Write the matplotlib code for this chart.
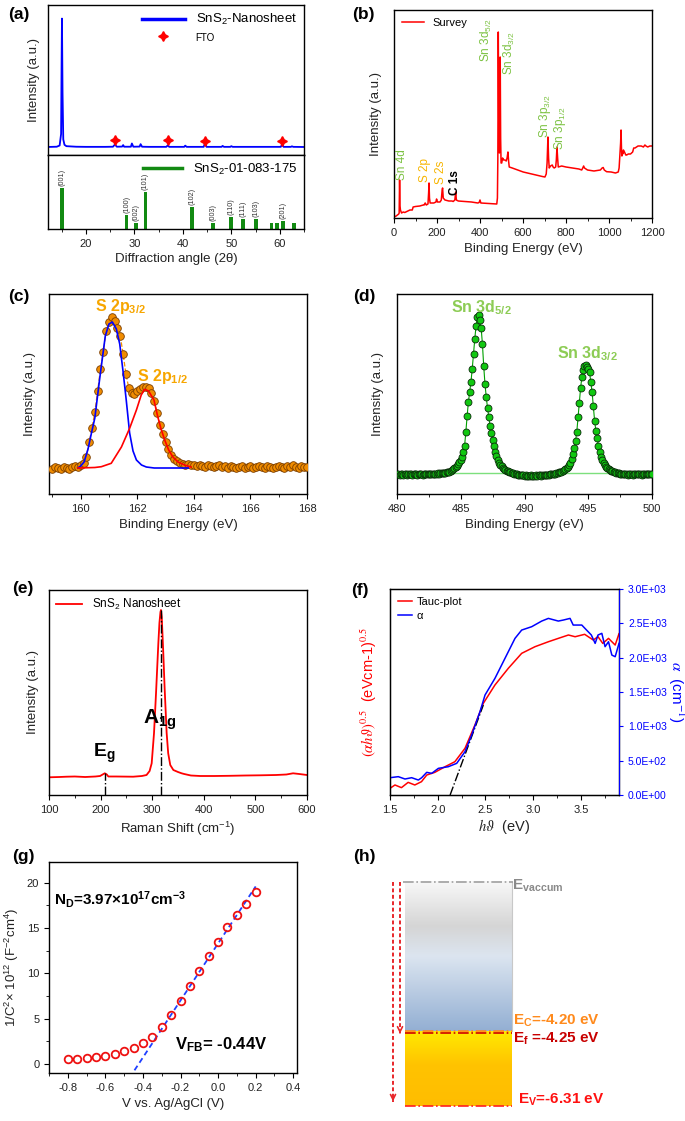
import numpy as np
import matplotlib
matplotlib.use("Agg")
import matplotlib.pyplot as plt
from matplotlib.colors import LinearSegmentedColormap
from matplotlib.lines import Line2D
from matplotlib.ticker import MultipleLocator, FuncFormatter

plt.rcParams["font.family"] = ["Liberation Sans", "DejaVu Sans"]
plt.rcParams["mathtext.fontset"] = "custom"
plt.rcParams["mathtext.rm"] = "Liberation Sans"
plt.rcParams["mathtext.sf"] = "Liberation Sans"
plt.rcParams["mathtext.it"] = "Liberation Sans:italic"
plt.rcParams["mathtext.bf"] = "Liberation Sans:bold"

# ---- (a) XRD ----
xrd_x = [12.0, 14.0, 14.6, 14.9, 15.0, 15.08, 15.2, 15.35, 15.6, 16.0, 18.0, 20.0, 24.0, 25.6, 26.0, 26.4,
         27.5, 27.7, 27.9, 29.3, 29.5, 29.8, 31.1, 31.3, 31.6, 33.0, 36.6, 36.9, 37.2, 40.3, 40.5, 40.8,
         44.3, 44.6, 44.9, 48.0, 48.2, 48.5, 49.8, 50.0, 50.3, 55.0, 60.2, 60.5, 60.8, 62.3, 62.5, 62.8, 65.0]
xrd_y = [0.4, 0.6, 1.5, 10, 60, 95, 40, 6, 2, 1.0, 0.6, 0.5, 0.5, 0.6, 2.2, 0.6,
         0.7, 1.8, 0.6, 0.6, 3.0, 0.6, 0.7, 2.5, 0.6, 0.5, 0.5, 1.6, 0.5, 0.5, 1.4, 0.5,
         0.5, 3.2, 0.5, 0.5, 1.2, 0.5, 0.5, 1.0, 0.5, 0.5, 0.5, 2.2, 0.5, 0.5, 0.9, 0.5, 0.4]
fto_x = [26.0, 37.0, 44.5, 60.5]
fto_y = [5.5, 5.5, 4.5, 4.5]
ref_pos = [15.1, 28.4, 30.4, 32.3, 41.9, 46.2, 50.0, 52.5, 55.05, 58.3, 59.5, 60.7, 63.0]
ref_h = [100, 34, 15, 90, 54, 15, 29, 24, 24, 15, 15, 19, 15]
ref_hkl = ["(001)", "(100)", "(002)", "(101)", "(102)", "(003)", "(110)", "(111)", "(103)", "", "", "(201)", ""]

# ---- (b) XPS survey ----
sv_x = [0, 10, 22, 24, 25, 26, 28, 30, 35, 43, 50, 74, 85, 89, 100, 120, 136, 140, 145, 150, 158, 161, 163, 165,
        168, 175, 185, 195, 198, 202, 214, 220, 224, 226, 229, 237, 255, 270, 275, 283, 287, 290, 299, 330, 360,
        390, 396, 400, 404, 440, 470, 478, 481, 483, 485, 487, 488, 490, 492, 494, 496, 498, 501, 505, 510, 516,
        522, 526, 530, 533, 536, 550, 575, 601, 650, 690, 702, 708, 712, 716, 719, 722, 728, 736, 740, 745, 752,
        755, 758, 761, 764, 780, 800, 830, 860, 873, 878, 882, 886, 900, 930, 960, 968, 973, 978, 989, 1010, 1030,
        1043, 1047, 1051, 1054, 1056, 1058, 1060, 1062, 1064, 1067, 1072, 1078, 1082, 1090, 1100, 1110, 1115,
        1121, 1135, 1150, 1160, 1167, 1172, 1180, 1190, 1200]
sv_y = [1, 2, 4, 5, 20, 38, 12, 8, 5, 6, 5.5, 8, 8, 11, 11.5, 12, 13, 13, 15, 13, 14, 25, 35, 20,
        15, 15, 15, 16, 19, 16, 16, 18, 28, 30, 20, 18, 17, 17, 16.5, 18, 26, 18, 17, 16.5, 16,
        15, 15.5, 18, 15, 14.5, 14, 14, 20, 60, 186, 120, 70, 65, 100, 161, 80, 55, 55, 60, 58, 58,
        57, 60, 66, 57, 51, 50, 48, 46, 43.5, 41.5, 41, 44, 55, 81, 60, 50, 52, 53, 51, 50, 51,
        58, 71, 60, 51, 52, 51, 50, 49, 48, 50, 52, 50, 48, 47, 48, 50, 50.5, 48, 46.3, 46, 45,
        46, 50, 65, 75, 88, 70, 62, 66, 64, 68, 66, 63, 63, 64, 64, 66, 70,
        70, 72, 72, 71, 73, 72, 71, 72, 72]

# ---- (c) S 2p ----
s2p_x = np.round(np.arange(159.0, 168.05, 0.1), 1)
s2p_y = [25, 27, 26, 25, 27, 26, 25, 27, 28, 27,
         29, 31, 37, 52, 66, 82, 103, 125, 142, 163,
         172, 177, 173, 166, 158, 140, 120, 106, 101, 100,
         103, 105, 107, 107, 106, 101, 93, 81, 69, 60,
         52, 45, 39, 35, 33, 31, 30, 29, 30, 29,
         29, 28, 29, 28, 27, 29, 28, 27, 28, 29,
         27, 28, 26, 28, 27, 26, 27, 28, 26, 27,
         28, 26, 27, 28, 27, 26, 28, 27, 26, 27,
         28, 27, 26, 28, 27, 29, 27, 26, 28, 27,
         27]
p32_x = [159.9, 160.0, 160.12, 160.26, 160.35, 160.5, 160.67, 160.87, 161.0, 161.12, 161.26, 161.38,
         161.5, 161.61, 161.73, 161.85, 161.97, 162.15, 162.32, 162.6, 163.0, 163.8]
p32_y = [26, 28, 32, 45, 57, 76, 115, 158, 170, 172, 165, 150, 122, 94, 61, 43, 34, 29, 27, 26, 26, 26]
p12_x = [159.9, 160.5, 160.73, 161.08, 161.44, 161.73, 161.97, 162.14, 162.26, 162.4, 162.59, 162.71,
         162.83, 162.97, 163.11, 163.26, 163.44, 163.67, 163.9]
p12_y = [26, 26.5, 27.3, 30.7, 47, 65.7, 84, 99, 104.7, 103, 94, 79, 66, 54, 44, 37, 32, 29, 27]

# ---- (d) Sn 3d ----
sn_x = np.round(np.arange(480.0, 500.05, 0.1), 1)
sn_y = [19.5, 20.0, 19.0, 19.8, 20.2, 19.4, 19.9, 20.1, 19.3, 19.7,
        20.0, 19.5, 19.2, 19.9, 20.3, 19.6, 19.4, 20.0, 19.8, 19.5,
        19.3, 19.9, 20.2, 19.7, 19.5, 20.0, 19.8, 19.6, 20.1, 20.3,
        19.9, 20.2, 20.5, 20.1, 20.6, 20.8, 20.5, 21.0, 21.2, 21.6,
        21.8, 22.3, 22.9, 23.6, 24.8, 26.0, 27.2, 28.4, 30.0, 31.5,
        33.5, 37.0, 42.0, 48.0, 62.0, 78.0, 92.0, 102.0, 112.0, 125.0,
        140.0, 155.0, 168.0, 177.0, 179.0, 174.0, 166.0, 150.0, 128.0, 110.0,
        97.0, 86.0, 77.0, 68.0, 61.0, 54.0, 48.0, 42.0, 37.5, 34.0,
        31.0, 29.0, 27.5, 26.0, 25.0, 24.0, 23.2, 22.6, 22.0, 21.5,
        21.0, 20.8, 20.4, 20.0, 19.6, 19.3, 19.1, 18.8, 18.6, 18.5,
        18.3, 18.6, 18.2, 18.4, 18.1, 18.5, 18.3, 18.0, 18.4, 18.6,
        18.3, 18.5, 18.8, 18.4, 18.9, 19.0, 18.7, 19.2, 19.0, 19.4,
        19.6, 19.5, 19.9, 20.2, 20.4, 20.8, 21.0, 21.5, 21.9, 22.4,
        23.0, 23.8, 24.8, 26.0, 27.3, 29.0, 31.0, 35.0, 40.0, 46.0,
        53.0, 62.0, 77.0, 91.0, 106.0, 117.0, 124.0, 128.0, 129.0, 127.0,
        125.0, 122.0, 112.0, 102.0, 88.0, 73.0, 63.0, 56.0, 48.0, 41.5,
        37.0, 34.0, 31.0, 29.0, 27.0, 26.0, 25.0, 24.0, 23.2, 22.6,
        22.0, 21.6, 21.2, 20.9, 20.6, 20.3, 20.1, 19.9, 20.2, 19.6,
        19.8, 19.4, 20.1, 19.6, 19.9, 19.3, 19.8, 20.2, 19.5, 19.9,
        19.6, 20.0, 19.4, 19.8, 20.3, 19.7, 19.5, 20.1, 19.8, 19.6,
        19.9]
sn_bg_x = [484.5, 497.5]
sn_bg_y = [20.5, 20.5]

# ---- (e) Raman ----
ram_x = [100, 120, 134, 150, 170, 190, 199, 204, 208, 212, 215, 230, 263, 280, 289, 295, 299, 303.5, 307.4,
         311.9, 314, 316, 317, 318.5, 321.5, 324, 326, 328, 331, 335, 341, 350, 357, 362, 375, 393, 420, 450,
         480, 510, 540, 560, 573, 585, 600]
ram_y = [17.7, 18, 18.3, 18.5, 18, 18.5, 19, 20.5, 21.7, 20.5, 18.5, 18.5, 18.3, 19, 20, 24, 31.7, 61.7, 101.7,
         151.7, 172, 183, 185, 178, 141.7, 108, 85, 62, 41.7, 30, 25, 23, 21.7, 21, 19.5, 19, 19, 19.2,
         19.5, 19.7, 20, 20.5, 21.7, 21, 20]
ram_modes = [208, 318]
ram_mode_h = [21.7, 185]

# ---- (f) Tauc / absorption ----
tauc_x = [1.5, 1.552, 1.62, 1.69, 1.76, 1.83, 1.885, 1.97, 2.077, 2.18, 2.286, 2.39, 2.478, 2.60, 2.74,
          2.88, 3.02, 3.16, 3.264, 3.37, 3.44, 3.54, 3.63, 3.68, 3.73, 3.79, 3.86, 3.9]
tauc_y = [97, 146, 107, 184, 146, 194, 291, 330, 412, 485, 680, 1019, 1335, 1602, 1845,
          2063, 2160, 2232, 2281, 2330, 2305, 2340, 2257, 2305, 2208, 2281, 2184, 2349]
alpha_x = [1.5, 1.587, 1.657, 1.727, 1.797, 1.832, 1.885, 1.937, 2.007, 2.111, 2.199, 2.286, 2.356, 2.443,
           2.496, 2.60, 2.705, 2.81, 2.88, 2.985, 3.09, 3.16, 3.264, 3.317, 3.387, 3.42, 3.51, 3.56, 3.61,
           3.65, 3.68, 3.72, 3.754, 3.79, 3.825, 3.86, 3.9]
alpha_y = [252, 267, 233, 252, 218, 252, 330, 315, 388, 412, 461, 631, 874, 1213,
           1456, 1699, 1990, 2281, 2402, 2451, 2533, 2572, 2533, 2548, 2572, 2475, 2475, 2402, 2330,
           2208, 2330, 2354, 2160, 2232, 2038, 2014, 2208]
tang_x = [2.13, 2.478]
tang_y = [0, 1310]

# ---- (g) Mott-Schottky ----
ms_v = [-0.80, -0.75, -0.70, -0.65, -0.60, -0.55, -0.50, -0.45, -0.40, -0.35, -0.30,
        -0.25, -0.20, -0.15, -0.10, -0.05, 0.00, 0.05, 0.10, 0.15, 0.20]
ms_c = [0.51, 0.55, 0.62, 0.73, 0.92, 1.14, 1.40, 1.73, 2.36, 3.02, 4.05,
        5.44, 6.95, 8.6, 10.3, 11.9, 13.5, 15.1, 16.5, 17.7, 19.0]
ms_fit_x = [-0.445, 0.2]
ms_fit_y = [-0.7, 19.6]

# ---- (h) band levels (eV) ----
E_vac, E_c, E_f, E_v = 0.0, -4.20, -4.25, -6.31

W, H = 685.0, 1121.0
def box(l, t, r, b):
    return [l / W, 1 - b / H, (r - l) / W, (b - t) / H]

TXT = "#222222"
def style(ax, yt=False):
    ax.tick_params(labelsize=8, labelcolor=TXT, width=0.8, length=3.5)
    ax.tick_params(which="minor", width=0.6, length=2)
    if not yt:
        ax.set_yticks([])
    for s in ax.spines.values():
        s.set_linewidth(1.0)

fig = plt.figure(figsize=(6.85, 11.21), dpi=100)

# ===== (a) =====
a1 = fig.add_axes(box(48, 5, 304, 155))
a2 = fig.add_axes(box(48, 155, 304, 229), sharex=a1)
a1.plot(xrd_x, xrd_y, color="#0000ff", lw=1.3)
a1.plot(fto_x, fto_y, ls="none", marker=(4, 1, 0), ms=7, color="red")
a1.set_ylim(-5.5, 105)
a1.set_xlim(12.2, 65)
style(a1); style(a2)
plt.setp(a1.get_xticklabels(), visible=False)
a1.xaxis.set_minor_locator(MultipleLocator(5))
h1 = [Line2D([], [], color="#0000ff", lw=2.5), Line2D([], [], ls="none", marker=(4, 1, 0), ms=7, color="red")]
lg = a1.legend(h1, ["SnS$_2$-Nanosheet", "FTO"], loc="upper right", frameon=False, fontsize=9.5,
               handlelength=3.3, borderaxespad=0.15, labelspacing=0.3)
lg.get_texts()[1].set_fontsize(7)
a1.set_ylabel("Intensity (a.u.)", fontsize=9.5, color=TXT, labelpad=6)
a2.bar(ref_pos, ref_h, width=0.8, color="#128a12")
for p, hh, t in zip(ref_pos, ref_h, ref_hkl):
    if t:
        a2.text(p, hh + 5, t, rotation=90, ha="center", va="bottom", fontsize=5.2, color="#333333")
a2.set_ylim(0, 180)
a2.xaxis.set_major_locator(MultipleLocator(10))
a2.xaxis.set_minor_locator(MultipleLocator(5))
a2.legend([Line2D([], [], color="#128a12", lw=2.5)], ["SnS$_2$-01-083-175"], loc="upper right", frameon=False,
          fontsize=9.5, handlelength=3.0, borderaxespad=0.1)
a2.set_xlabel("Diffraction angle (2\u03b8)", fontsize=9.5, color=TXT, labelpad=3)

# ===== (b) =====
b = fig.add_axes(box(394, 10, 652, 218))
b.plot(sv_x, sv_y, color="#ff0000", lw=1.1)
b.set_xlim(0, 1200); b.set_ylim(0, 208)
style(b)
b.xaxis.set_major_locator(MultipleLocator(200)); b.xaxis.set_minor_locator(MultipleLocator(100))
b.legend(["Survey"], loc="upper left", frameon=False, fontsize=8, handlelength=2.0, borderaxespad=0.3)
b.set_ylabel("Intensity (a.u.)", fontsize=9.5, color=TXT, labelpad=9)
b.set_xlabel("Binding Energy (eV)", fontsize=9.5, color=TXT)
GRN, ORG = "#7cc242", "#f7b500"
for x, y, t, c in [(36, 53, "Sn 4d", GRN), (144, 48, "S 2p", ORG), (217, 46, "S 2s", ORG),
                   (431, 178, "Sn 3d$_{5/2}$", GRN), (536, 165, "Sn 3d$_{3/2}$", GRN),
                   (702, 102, "Sn 3p$_{3/2}$", GRN), (770, 90, "Sn 3p$_{1/2}$", GRN)]:
    b.text(x, y, t, rotation=90, ha="center", va="center", fontsize=8.5, color=c)
b.text(284, 35, "C 1s", rotation=90, ha="center", va="center", fontsize=8.5, color="black", fontweight="bold")

# ===== (c) =====
c = fig.add_axes(box(49, 294, 307, 494))
c.plot(s2p_x, s2p_y, color="#f39200", lw=0.9, ls="--", zorder=2)
c.plot(s2p_x, s2p_y, ls="none", marker="o", ms=5.5, mfc="#f08c00", mec="#7a3d00", mew=0.6, zorder=3)
c.plot(p32_x, p32_y, color="#0000ff", lw=1.2, zorder=4)
c.plot(p12_x, p12_y, color="#ff0000", lw=1.2, zorder=4)
c.set_xlim(158.88, 168); c.set_ylim(0, 200)
style(c)
c.xaxis.set_major_locator(MultipleLocator(2)); c.xaxis.set_minor_locator(MultipleLocator(1))
c.text(161.41, 187, r"S 2p$_\mathbf{3/2}$", ha="center", va="center", fontsize=11.5, fontweight="bold", color="#f7a600")
c.text(162.91, 117, r"S 2p$_\mathbf{1/2}$", ha="center", va="center", fontsize=11.5, fontweight="bold", color="#f7a600")
c.set_ylabel("Intensity (a.u.)", fontsize=9.5, color=TXT, labelpad=9)
c.set_xlabel("Binding Energy (eV)", fontsize=9.5, color=TXT)

# ===== (d) =====
d = fig.add_axes(box(397, 294, 652, 494))
d.plot(sn_bg_x, sn_bg_y, color="#7de07d", lw=1.0, zorder=1)
d.plot(sn_x, sn_y, color="#00a000", lw=0.8, zorder=2)
d.plot(sn_x, sn_y, ls="none", marker="o", ms=5, mfc="#11c811", mec="#0a2a0a", mew=0.6, zorder=3)
d.set_xlim(480, 500); d.set_ylim(0, 200)
style(d)
d.xaxis.set_major_locator(MultipleLocator(5)); d.xaxis.set_minor_locator(MultipleLocator(2.5))
d.text(486.6, 186, r"Sn 3d$_\mathbf{5/2}$", ha="center", va="center", fontsize=11.5, fontweight="bold", color="#8dcc55")
d.text(494.9, 140, r"Sn 3d$_\mathbf{3/2}$", ha="center", va="center", fontsize=11.5, fontweight="bold", color="#8dcc55")
d.set_ylabel("Intensity (a.u.)", fontsize=9.5, color=TXT, labelpad=9.5)
d.set_xlabel("Binding Energy (eV)", fontsize=9.5, color=TXT)

# ===== (e) =====
e = fig.add_axes(box(49, 590, 307, 795))
e.plot(ram_x, ram_y, color="#ff0000", lw=1.3, label="SnS$_2$ Nanosheet")
for xm, hm in zip(ram_modes, ram_mode_h):
    e.plot([xm, xm], [0, hm], color="black", lw=1.0, ls="-.")
e.set_xlim(100, 600); e.set_ylim(0, 205)
style(e)
e.xaxis.set_major_locator(MultipleLocator(100)); e.xaxis.set_minor_locator(MultipleLocator(50))
e.legend(loc="upper left", frameon=False, fontsize=8.5, handlelength=2.2, borderaxespad=0.2)
e.text(185, 42, r"E$_\mathbf{g}$", ha="left", va="center", fontsize=14, fontweight="bold")
e.text(282, 75, r"A$_\mathbf{1g}$", ha="left", va="center", fontsize=15, fontweight="bold")
e.set_ylabel("Intensity (a.u.)", fontsize=9.5, color=TXT, labelpad=7)
e.set_xlabel("Raman Shift (cm$^{-1}$)", fontsize=9.5, color=TXT)

# ===== (f) =====
f = fig.add_axes(box(390, 589, 619, 795))
f2 = f.twinx()
lr, = f.plot(tauc_x, tauc_y, color="#ff0000", lw=1.1)
lb, = f2.plot(alpha_x, alpha_y, color="#0000ff", lw=1.1)
f.plot(tang_x, tang_y, color="black", lw=1.0, ls="-.")
f.set_xlim(1.5, 3.9); f.set_ylim(0, 3000); f2.set_ylim(0, 3000)
style(f)
f.xaxis.set_major_locator(MultipleLocator(0.5)); f.xaxis.set_minor_locator(MultipleLocator(0.25))
f2.yaxis.set_major_locator(MultipleLocator(500))
f2.yaxis.set_major_formatter(FuncFormatter(lambda v, p: f"{v:.1E}"))
f2.tick_params(labelsize=7.5, colors="#0000ff", width=0.8, length=3)
f2.spines["right"].set_color("#0000ff")
f2.legend([lr, lb], ["Tauc-plot", "\u03b1"], loc="upper left", frameon=False, fontsize=8,
          handlelength=1.3, handletextpad=0.4, borderaxespad=0.3, labelspacing=0.4)
f.set_ylabel(r"$(\alpha h\vartheta)^{0.5}$  (eVcm-1)$^{0.5}$", fontsize=10.5, color="#ff0000",
             labelpad=8, math_fontfamily="stix")
f2.set_ylabel(r"$\alpha$  (cm$^{-1}$)", fontsize=11, color="#0000ff", rotation=270, labelpad=14,
              math_fontfamily="stix")
f.set_xlabel(r"$h\vartheta$  (eV)", fontsize=10.5, color=TXT, math_fontfamily="stix", labelpad=2)

# ===== (g) =====
g = fig.add_axes(box(49, 862, 297, 1073))
g.plot(ms_fit_x, ms_fit_y, color="#1f3fff", lw=1.3, ls=(0, (3, 2)), zorder=2)
g.plot(ms_v, ms_c, ls="none", marker="o", ms=5.5, mfc="none", mec="#ee1111", mew=1.3, zorder=3)
g.set_xlim(-0.9, 0.42); g.set_ylim(-1.0, 22.3)
style(g, yt=True)
g.xaxis.set_major_locator(MultipleLocator(0.2)); g.xaxis.set_minor_locator(MultipleLocator(0.1))
g.yaxis.set_major_locator(MultipleLocator(5)); g.yaxis.set_minor_locator(MultipleLocator(2.5))
g.xaxis.set_major_formatter(FuncFormatter(lambda v, p: f"{v:.1f}"))
g.text(-0.875, 18.2, r"$\mathbf{N_D}$=3.97×10$^\mathbf{17}$cm$^\mathbf{-3}$", fontsize=11, fontweight="bold",
       va="center")
g.text(-0.227, 2.1, r"$\mathbf{V_{FB}}$= -0.44V", fontsize=12, fontweight="bold", va="center")
g.set_ylabel(r"1/C$^2$× 10$^{12}$ (F$^{-2}$cm$^4$)", fontsize=9.5, color=TXT, labelpad=4)
g.set_xlabel("V vs. Ag/AgCl (V)", fontsize=9.5, color=TXT)

# ===== (h) =====
hx = fig.add_axes(box(345, 850, 685, 1121))
grad = np.linspace(0, 1, 256).reshape(-1, 1)
cm_top = LinearSegmentedColormap.from_list("t", [(0, "#f8f8f8"), (0.3, "#d5d5d5"), (0.5, "#dce5f0"), (1, "#93afd3")])
cm_bot = LinearSegmentedColormap.from_list("b", [(0, "#ffea00"), (0.45, "#ffc300"), (1, "#ffbd00")])
hx.imshow(grad, cmap=cm_top, extent=[60, 167, E_c, E_vac], aspect="auto", origin="upper", zorder=1)
hx.imshow(grad, cmap=cm_bot, extent=[60, 167, E_v, E_c], aspect="auto", origin="upper", zorder=1)
hx.plot([167, 167], [E_c, E_vac], color="#c8c8c8", lw=0.8, zorder=2)
hx.plot([58, 168], [E_vac, E_vac], color="#a0a0a0", lw=1.2, ls="-.", zorder=3)
hx.plot([60, 167], [E_c, E_c], color="#ff8a1c", lw=1.2, ls="-.", zorder=3)
hx.plot([60, 167], [E_f, E_f], color="#d00000", lw=1.2, ls="-.", zorder=3)
hx.plot([60, 167], [E_v, E_v], color="#ff2020", lw=1.2, ls="-.", zorder=3)
for xa, yend in [(48, E_v + 0.05), (55, E_f - 0.1)]:
    hx.plot([xa, xa], [E_vac, yend + 0.05], color="#e8262a", lw=1.4, ls=(0, (2, 1.3)), zorder=3)
    hx.annotate("", xy=(xa, yend), xytext=(xa, yend + 0.25),
                arrowprops=dict(arrowstyle="->", color="#e8262a", lw=1.2, mutation_scale=9))
hx.text(167, E_vac - 0.1, r"E$_\mathbf{vaccum}$", color="#8a8a8a", fontsize=11, fontweight="bold", va="center")
hx.text(168, E_c + 0.28, r"E$_\mathbf{C}$=-4.20 eV", color="#ff8a1c", fontsize=11, fontweight="bold", va="center")
hx.text(168, E_f - 0.17, r"E$_\mathbf{f}$ =-4.25 eV", color="#c80000", fontsize=11, fontweight="bold", va="center")
hx.text(173, E_v + 0.17, r"E$_\mathbf{V}$=-6.31 eV", color="#ff1010", fontsize=11, fontweight="bold", va="center")
hx.set_xlim(0, 340); hx.set_ylim(-6.736, 0.902)
hx.axis("off")

# panel letters
for t, x, y in [("(a)", 8, 15), ("(b)", 352, 15), ("(c)", 8, 297), ("(d)", 353, 297),
                ("(e)", 12, 589), ("(f)", 351, 590), ("(g)", 12, 856), ("(h)", 353, 856)]:
    fig.text(x / W, 1 - y / H, t, fontsize=12.5, fontweight="bold", va="center", ha="left")

fig.savefig("out.png", dpi=100)
